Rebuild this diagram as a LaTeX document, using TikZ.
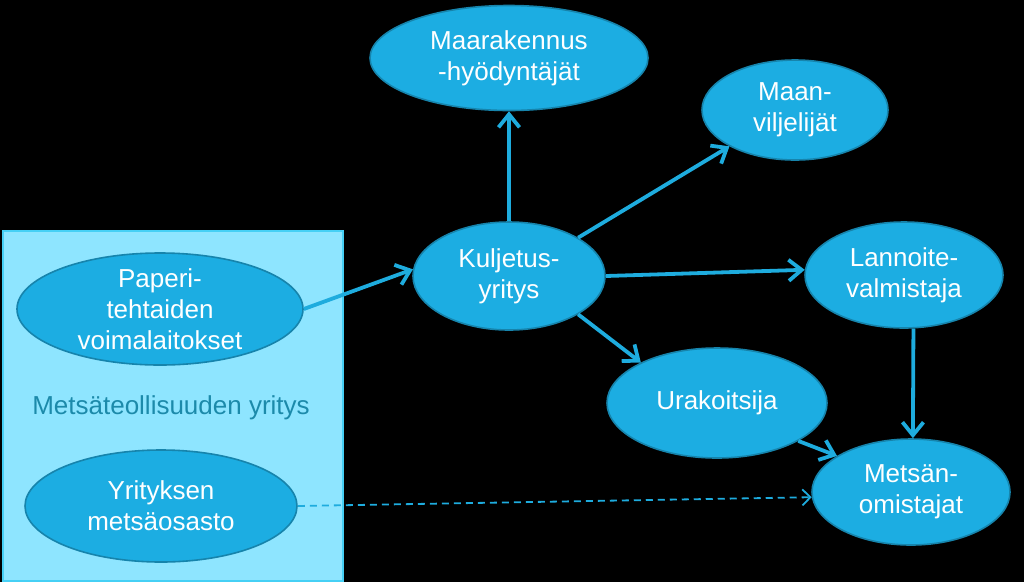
\documentclass[tikz,border=0pt]{standalone}
\usepackage{fontspec}
\setmainfont{Liberation Sans}
\usetikzlibrary{shapes.geometric,arrows.meta}
\definecolor{ellfill}{RGB}{28,173,226}
\definecolor{elldraw}{RGB}{22,132,172}
\definecolor{arrcol}{RGB}{30,172,222}
\definecolor{boxfill}{RGB}{142,229,255}
\definecolor{boxdraw}{RGB}{70,208,245}
\definecolor{boxtext}{RGB}{28,138,170}
\begin{document}
\begin{tikzpicture}[x=1pt,y=-1pt,
  ell/.style={ellipse, draw=elldraw, line width=1.6pt, fill=ellfill, inner sep=0pt},
  lab/.style={text=white, align=center, inner sep=0pt, font=\fontsize{26}{31}\selectfont},
  arr/.style={draw=arrcol, line width=3.8pt, -{Straight Barb[length=13pt,width=21pt]}},
  darr/.style={draw=arrcol, line width=1.8pt, dash pattern=on 7pt off 5pt, -{Straight Barb[length=8pt,width=16pt]}}
]
\fill[black] (0,0) rectangle (1024,582);
\useasboundingbox (0,0) rectangle (1024,582);

\node[draw=boxdraw, fill=boxfill, line width=2pt, anchor=north west, minimum width=340pt, minimum height=350pt, inner sep=0pt] (box) at (2,230) {};
\node[text=boxtext, inner sep=0pt, font=\fontsize{26}{31}\selectfont] (boxlab) at (171,408) {Mets\"ateollisuuden yritys};

\node[ell, minimum width=278pt, minimum height=105pt, label={[lab]center:Maarakennus\\-hy\"odynt\"aj\"at}] (mar) at (509,58) {};
\node[ell, minimum width=186pt, minimum height=100pt, label={[lab]center:Maan-\\viljelij\"at}] (maa) at (795,110) {};
\node[ell, minimum width=192pt, minimum height=108pt, label={[lab]center:Kuljetus-\\yritys}] (kul) at (509,276) {};
\node[ell, minimum width=198pt, minimum height=106pt, label={[lab]center:Lannoite-\\valmistaja}] (lan) at (904,275) {};
\node[ell, minimum width=220pt, minimum height=110pt, label={[lab]center:Urakoitsija}] (ura) at (717,403) {};
\node[ell, minimum width=198pt, minimum height=106pt, label={[lab]center:Mets\"an-\\omistajat}] (met) at (911,492) {};
\node[ell, minimum width=286pt, minimum height=112pt, label={[lab]center:Paperi-\\tehtaiden\\voimalaitokset}] (pap) at (160,309) {};
\node[ell, minimum width=272pt, minimum height=112pt, label={[lab]center:Yrityksen\\mets\"aosasto}] (yri) at (161,506) {};

\draw[arr] (pap.0) -- (kul.176);
\draw[arr] (kul.90) -- (mar.270);
\draw[arr] (kul.29.5) -- (maa.209);
\draw[arr] (kul.0) -- (lan.177);
\draw[arr] (kul.-29) -- (ura.152.6);
\draw[arr] (ura.-25.4) -- (met.154.4);
\draw[arr] (lan.-80) -- (met.88);
\draw[darr] (yri.0) -- (met.183);
\end{tikzpicture}
\end{document}
